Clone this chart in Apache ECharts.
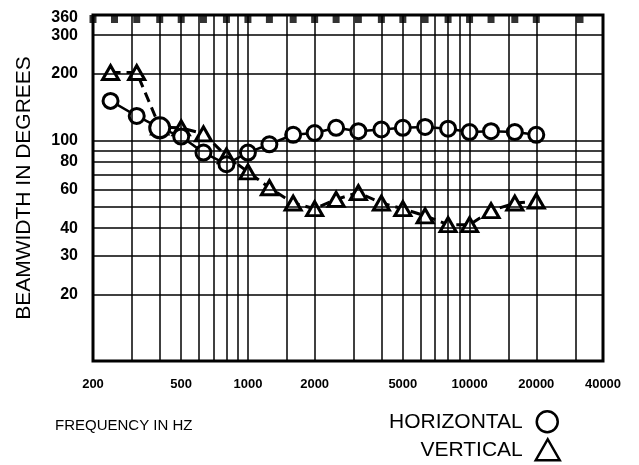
<!DOCTYPE html>
<html>
<head>
<meta charset="utf-8">
<script src="https://cdn.jsdelivr.net/npm/echarts@6/dist/echarts.min.js"></script>
<style>
  html, body { margin: 0; padding: 0; background: #fff; }
  #chart { width: 639px; height: 465px; }
</style>
</head>
<body>
<div id="chart"></div>
<script>
// frequencies (Hz) of the measured points, 1/3 octave steps
const freqs = [240, 315, 400, 500, 630, 800, 1000, 1250, 1600, 2000, 2500, 3150, 4000, 5000, 6300, 8000, 10000, 12500, 16000, 20000];
// beamwidth in degrees
const horizontal = [151, 129, 114, 104, 88, 78, 88, 96, 106, 108, 114, 110, 112, 114, 115, 113, 109, 110, 109, 106];
const vertical = [203, 203, 115, 114, 107, 85, 72, 61, 52, 49, 54, 58, 52, 49, 45.5, 41.5, 41.5, 48, 52, 53];

const xTicks = [200, 500, 1000, 2000, 5000, 10000, 20000, 40000];
const yTicks = [20, 30, 40, 60, 80, 100, 200, 300, 360];
const xGrid = [300, 400, 500, 600, 700, 800, 900, 1000, 1500, 2000, 3000, 4000, 5000, 6000, 7000, 8000, 9000, 10000, 15000, 20000, 30000];
const yGrid = [20, 30, 40, 50, 60, 70, 80, 90, 100, 200, 300];
// little black marks hanging from the top frame
const topMarks = [200, 250, 315, 400, 500, 630, 800, 1000, 1250, 1600, 2000, 2500, 3150, 4000, 5000, 6300, 8000, 10000, 12500, 16000, 20000, 31500];

const X_MIN = 200, X_MAX = 40000, Y_MIN = 10, Y_MAX = 370;
const font = 'Liberation Sans, Arial, sans-serif';

const chart = echarts.init(document.getElementById('chart'));

const option = {
  animation: false,
  backgroundColor: '#fff',
  grid: {
    left: 93,
    right: 36,
    top: 15,
    bottom: 104,
    show: true,
    borderColor: '#000',
    borderWidth: 3,
    backgroundColor: 'transparent'
  },
  graphic: [
    {
      type: 'text',
      left: 55,
      top: 418,
      style: { text: 'FREQUENCY IN HZ', fill: '#000', font: '15px ' + font }
    }
  ],
  xAxis: {
    type: 'log',
    logBase: 10,
    min: X_MIN,
    max: X_MAX,
    axisLine: { show: false },
    axisTick: { show: false },
    splitLine: { show: false },
    axisLabel: {
      customValues: xTicks,
      formatter: v => String(Math.round(v)),
      margin: 17,
      color: '#000',
      fontFamily: font,
      fontWeight: 'bold',
      fontSize: 13
    }
  },
  yAxis: {
    type: 'log',
    logBase: 10,
    min: Y_MIN,
    max: Y_MAX,
    axisLine: { show: false },
    axisTick: { show: false },
    splitLine: { show: false },
    axisLabel: {
      customValues: yTicks,
      formatter: v => String(Math.round(v)),
      margin: 15,
      color: '#000',
      fontFamily: font,
      fontWeight: 'bold',
      fontSize: 16
    },
    name: 'BEAMWIDTH IN DEGREES',
    nameLocation: 'middle',
    nameGap: 58,
    nameTextStyle: {
      color: '#000',
      fontFamily: font,
      fontSize: 21
    }
  },
  legend: [
    {
      data: [{ name: 'HORIZONTAL', icon: 'circle', itemStyle: { color: '#fff', borderColor: '#000', borderWidth: 2.5 } }],
      right: 80,
      top: 410,
      padding: 0,
      align: 'right',
      itemWidth: 21,
      itemHeight: 21,
      textStyle: { color: '#000', fontFamily: font, fontSize: 21, padding: [0, 9, 0, 0] }
    },
    {
      data: [{ name: 'VERTICAL', icon: 'triangle', itemStyle: { color: '#fff', borderColor: '#000', borderWidth: 2.5 } }],
      right: 78,
      top: 438,
      padding: 0,
      align: 'right',
      itemWidth: 24,
      itemHeight: 21,
      textStyle: { color: '#000', fontFamily: font, fontSize: 21, padding: [0, 8, 0, 0] }
    }
  ],
  series: [
    {
      name: 'grid',
      type: 'line',
      data: [],
      silent: true,
      z: 1,
      markLine: {
        silent: true,
        symbol: 'none',
        animation: false,
        label: { show: false },
        lineStyle: { color: '#000', width: 1.5, type: 'solid' },
        data: xGrid.map(v => ({ xAxis: v })).concat(yGrid.map(v => ({ yAxis: v })))
      }
    },
    {
      name: 'marks',
      type: 'scatter',
      silent: true,
      z: 5,
      symbol: 'rect',
      symbolSize: [7, 8],
      symbolOffset: [0, 4],
      itemStyle: { color: '#000' },
      data: topMarks.map(f => [f, Y_MAX])
    },
    {
      name: 'VERTICAL',
      type: 'line',
      z: 3,
      data: freqs.map((f, i) => [f, vertical[i]]),
      symbol: 'triangle',
      symbolSize: [16, 14],
      lineStyle: { color: '#000', width: 3, type: [10, 6] },
      itemStyle: { color: '#fff', borderColor: '#000', borderWidth: 3 }
    },
    {
      name: 'HORIZONTAL',
      type: 'line',
      z: 4,
      data: freqs.map((f, i) => i === 2
        ? { value: [f, horizontal[i]], symbolSize: 20 }
        : [f, horizontal[i]]),
      symbol: 'circle',
      symbolSize: 15,
      lineStyle: { color: '#000', width: 2.5 },
      itemStyle: { color: '#fff', borderColor: '#000', borderWidth: 3 }
    }
  ]
};

chart.setOption(option);
</script>
</body>
</html>
